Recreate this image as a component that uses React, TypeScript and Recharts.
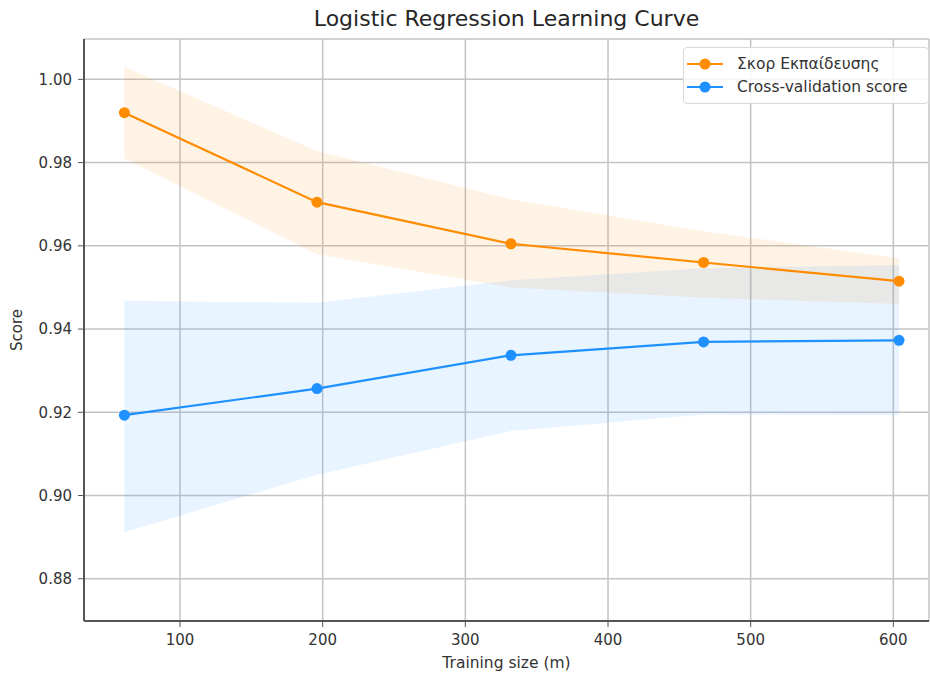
import {
  Area,
  CartesianGrid,
  ComposedChart,
  Legend,
  Line,
  ReferenceArea,
  XAxis,
  YAxis,
} from "recharts";

const trainSizes = [61, 196, 332, 467, 604];
const trainMean = [0.992, 0.9705, 0.9605, 0.956, 0.9515];
const trainLow = [0.981, 0.958, 0.95, 0.9475, 0.946];
const trainHigh = [1.003, 0.9828, 0.9712, 0.9635, 0.957];
const cvMean = [0.9193, 0.9257, 0.9337, 0.9369, 0.9373];
const cvLow = [0.8912, 0.905, 0.9155, 0.9195, 0.9193];
const cvHigh = [0.9468, 0.9463, 0.9517, 0.9546, 0.9554];

const xTicks = [100, 200, 300, 400, 500, 600];
const yTicks = [0.88, 0.9, 0.92, 0.94, 0.96, 0.98, 1.0];

const seriesNames = ["Σκορ Εκπαίδευσης", "Cross-validation score"];
const ORANGE = "#ff8c00";
const BLUE = "#1e90ff";
const FONT = "'DejaVu Sans', sans-serif";

const data = trainSizes.map((size, i) => ({
  size,
  train: trainMean[i],
  trainBand: [trainLow[i], trainHigh[i]],
  cv: cvMean[i],
  cvBand: [cvLow[i], cvHigh[i]],
}));

const legendItems = [
  { name: seriesNames[0], color: ORANGE },
  { name: seriesNames[1], color: BLUE },
];

const LegendBox = () => (
  <div
    style={{
      border: "1px solid #d9d9d9",
      borderRadius: 4,
      background: "rgba(255,255,255,0.85)",
      padding: "5px 0",
      fontFamily: FONT,
      fontSize: 15.5,
      color: "#333",
    }}
  >
    {legendItems.map((it) => (
      <div
        key={it.name}
        style={{ display: "flex", alignItems: "center", height: 22.5 }}
      >
        <svg width={40} height={14} style={{ marginLeft: 3, marginRight: 10 }}>
          <line x1={0} y1={7} x2={36} y2={7} stroke={it.color} strokeWidth={2.2} />
          <circle cx={18} cy={7} r={5.5} fill={it.color} />
        </svg>
        <span style={{ whiteSpace: "nowrap" }}>{it.name}</span>
      </div>
    ))}
  </div>
);

const tickStyle = { fontFamily: FONT, fontSize: 15, fill: "#333" };

export default function App() {
  return (
    <div style={{ position: "absolute", left: 0, top: 0, width: 930, height: 678, background: "#fff" }}>
      <div
        style={{
          position: "absolute",
          left: 84,
          width: 845,
          top: 6,
          textAlign: "center",
          fontFamily: FONT,
          fontSize: 22,
          color: "#262626",
        }}
      >
        Logistic Regression Learning Curve
      </div>
      <ComposedChart
        width={930}
        height={678}
        data={data}
        margin={{ top: 39, right: 1, bottom: 0, left: 0 }}
      >
        <CartesianGrid stroke="#c4c4c4" strokeWidth={1.5} />
        <XAxis
          dataKey="size"
          type="number"
          domain={[32.7, 625]}
          allowDataOverflow
          ticks={xTicks}
          height={57}
          tick={tickStyle}
          tickSize={6}
          tickMargin={7}
          stroke="#555"
          axisLine={{ stroke: "#555", strokeWidth: 2 }}
          label={{
            content: ({ viewBox }: any) => (
              <text
                x={viewBox.x + viewBox.width / 2}
                y={668}
                textAnchor="middle"
                fontFamily={FONT}
                fontSize={15.5}
                fill="#333"
              >
                Training size (m)
              </text>
            ),
          }}
        />
        <YAxis
          type="number"
          domain={[0.86985, 1.0097]}
          allowDataOverflow
          ticks={yTicks}
          width={84}
          tick={tickStyle}
          tickFormatter={(v: number) => v.toFixed(2)}
          tickSize={6}
          tickMargin={6}
          stroke="#555"
          axisLine={{ stroke: "#555", strokeWidth: 2 }}
          label={{
            content: ({ viewBox }: any) => {
              const cy = viewBox.y + viewBox.height / 2;
              return (
                <text
                  x={17}
                  y={cy}
                  transform={`rotate(-90 17 ${cy})`}
                  textAnchor="middle"
                  dominantBaseline="central"
                  fontFamily={FONT}
                  fontSize={15}
                  fill="#333"
                >
                  Score
                </text>
              );
            },
          }}
        />
        <Area
          type="linear"
          dataKey="trainBand"
          stroke="none"
          fill={ORANGE}
          fillOpacity={0.1}
          legendType="none"
          activeDot={false}
          isAnimationActive={false}
        />
        <Area
          type="linear"
          dataKey="cvBand"
          stroke="none"
          fill={BLUE}
          fillOpacity={0.1}
          legendType="none"
          activeDot={false}
          isAnimationActive={false}
        />
        <Line
          type="linear"
          dataKey="train"
          name={seriesNames[0]}
          stroke={ORANGE}
          strokeWidth={2.2}
          dot={{ r: 5.5, fill: ORANGE, stroke: "none" }}
          activeDot={false}
          isAnimationActive={false}
        />
        <Line
          type="linear"
          dataKey="cv"
          name={seriesNames[1]}
          stroke={BLUE}
          strokeWidth={2.2}
          dot={{ r: 5.5, fill: BLUE, stroke: "none" }}
          activeDot={false}
          isAnimationActive={false}
        />
        <ReferenceArea fill="none" stroke="#555" strokeWidth={2} ifOverflow="visible" />
        <Legend
          layout="vertical"
          align="center"
          verticalAlign="middle"
          width={246}
          wrapperStyle={{ top: 47, left: 683 }}
          content={() => <LegendBox />}
        />
      </ComposedChart>
    </div>
  );
}
